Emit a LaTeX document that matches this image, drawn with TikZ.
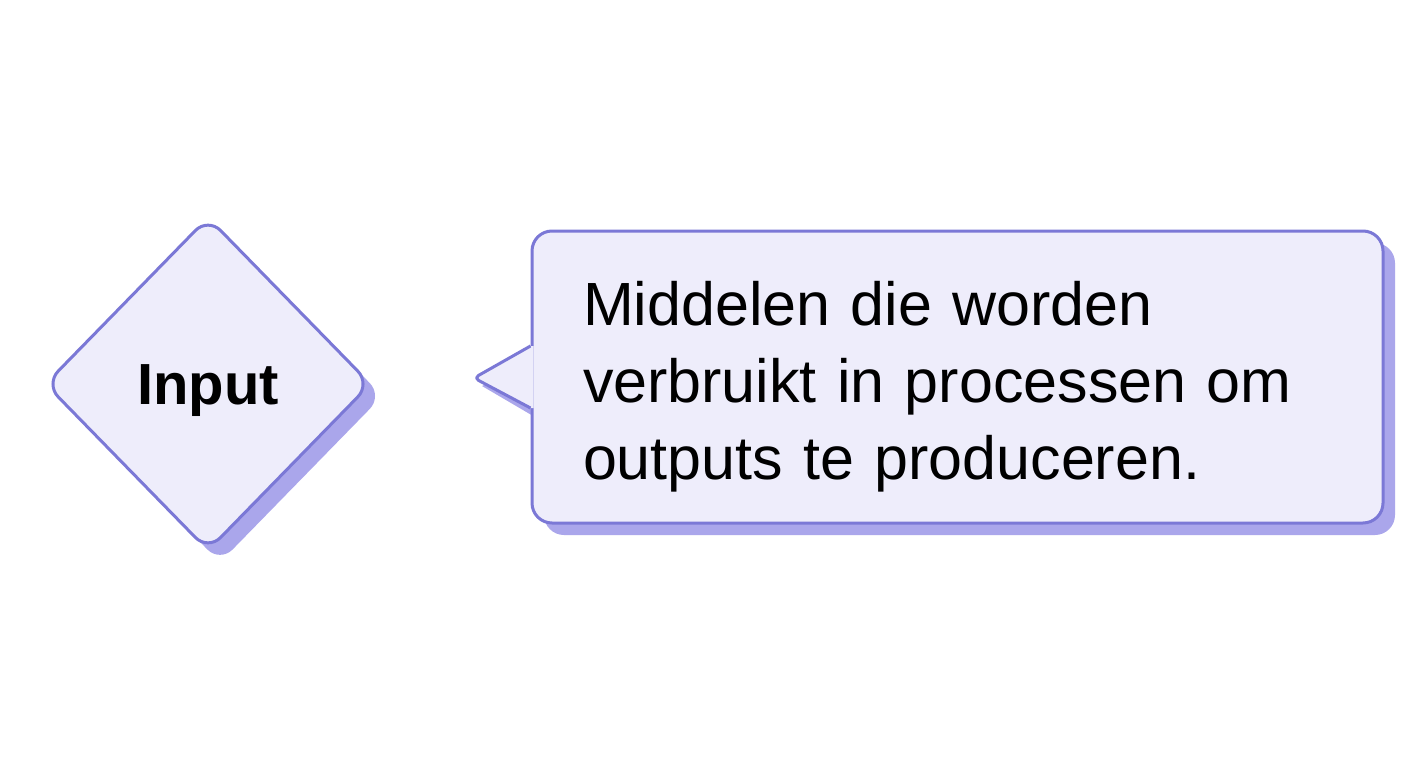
\documentclass[tikz,border=0pt]{standalone}
\usepackage{fontspec}
\setmainfont{Liberation Sans}
\usetikzlibrary{shapes.geometric,shadows,calc}
\definecolor{boxfill}{HTML}{EEEDFB}
\definecolor{boxline}{HTML}{7B78D6}
\definecolor{boxshade}{HTML}{AAA6EB}
\tikzset{
  shade box/.style={fill=boxfill, draw=boxline, line width=3pt,
    drop shadow={shadow xshift=12pt, shadow yshift=-12pt, opacity=1, fill=boxshade}},
}
\begin{document}
\begin{tikzpicture}[x=1pt,y=-1pt]
      \useasboundingbox[fill=white] (0,0) rectangle (1408,768);
      % diamond on the left
      \node[diamond, shade box, rounded corners=18pt, minimum width=326pt, minimum height=334pt,
            inner sep=0pt, font=\fontsize{58}{70}\selectfont\bfseries] (input) at (208,384) {\raisebox{-20pt}[0pt][0pt]{Input}};
      % pointer shadow, then the box
      \coordinate (tip) at (474,378);
      \fill[boxshade] ($(tip)+(8,8)$) -- (540,360) -- (540,420) -- cycle;
      \node[shade box, rounded corners=20pt, minimum width=851pt, minimum height=292pt] (desc) at (957.5,377) {};
      \node[text width=749pt, align=left, inner sep=0pt,
            font=\fontsize{61}{77}\selectfont] (desctext) at (957.5,387)
            {Middelen die worden\\verbruikt in processen om\\outputs te produceren.};
      % pointer on the left edge of the box
      \fill[boxfill] ($(desc.west)+(3,-31)$) -- ($(desc.west)+(0,-31)$) [rounded corners=5pt] -- (tip) [sharp corners] -- ($(desc.west)+(0,31)$) -- ($(desc.west)+(3,31)$) -- cycle;
      \draw[boxline, line width=3pt, line join=round] ($(desc.west)+(0,-31)$) [rounded corners=5pt] -- (tip) [sharp corners] -- ($(desc.west)+(0,31)$);
    \end{tikzpicture}
\end{document}
